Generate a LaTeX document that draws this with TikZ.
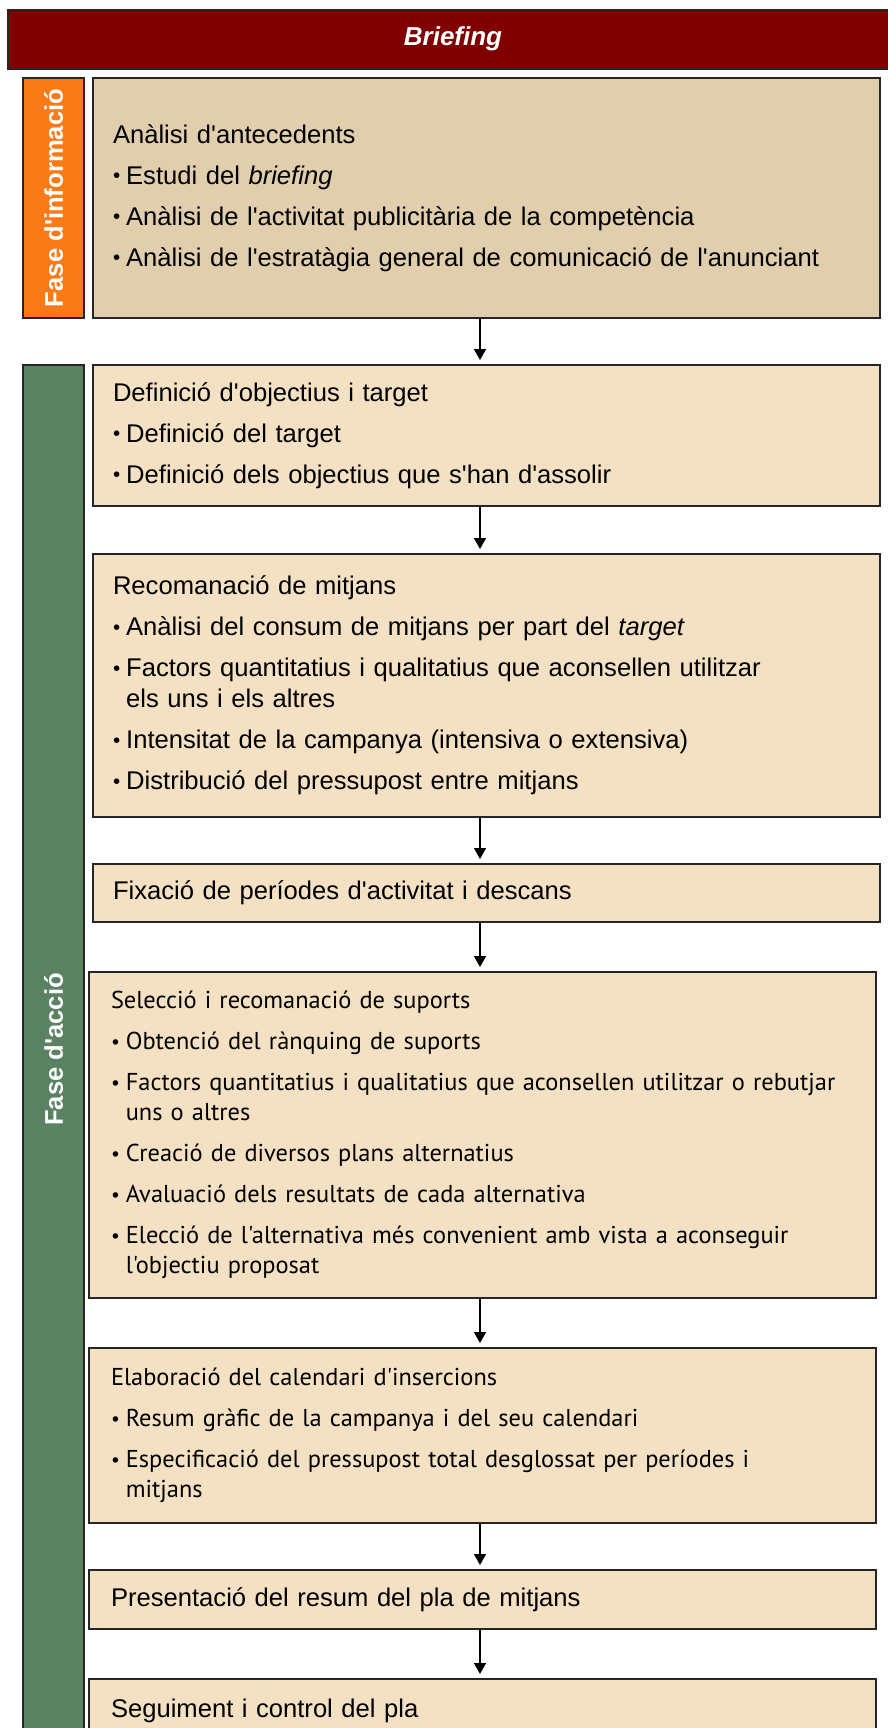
\documentclass[tikz,border=0pt]{standalone}
\usepackage{fontspec}
\setmainfont{Liberation Sans}[Ligatures=TeXOff]
\newfontfamily\humanist{PT Sans}[Ligatures=TeXOff]
\usetikzlibrary{arrows.meta,calc}

\definecolor{briefred}{HTML}{800000}
\definecolor{infoorange}{HTML}{FB7A18}
\definecolor{actiongreen}{HTML}{5A8262}
\definecolor{infobeige}{HTML}{E0CEAD}
\definecolor{stepbeige}{HTML}{F4E1C3}

% small bullet followed by a short gap; \cont indents a wrapped line by the same width
\newcommand\bul{\raisebox{0.06em}{\scalebox{0.8}{\textbullet}}\hspace{3pt}}
\newlength\bulw
\newcommand\cont{\settowidth{\bulw}{\bul}\hspace*{\bulw}}
\newcommand\nohyph{\hyphenpenalty 10000\relax}

\tikzset{
  phasebar/.style={draw=black!85, line width=1pt, anchor=north west,
    minimum width=30.5pt, inner sep=0pt},
  phaselabel/.style={rotate=90, text=white, font={\fontsize{12.8pt}{15pt}\selectfont\bfseries}},
  stepbox/.style={draw=black!85, line width=1pt, anchor=north west, fill=stepbeige,
    align=left, inner xsep=10pt, inner ysep=0pt, minimum width=393.5pt,
    text width=373.5pt, font={\fontsize{12.8pt}{15.5pt}\selectfont\nohyph}},
  humanbox/.style={stepbox, inner xsep=11pt, text width=371.5pt,
    font={\humanist\fontsize{12.2pt}{15pt}\selectfont\nohyph}},
  flow/.style={line width=0.75pt, -{Triangle[length=5.5pt,width=6pt]}, shorten >=2pt}
}

\begin{document}
\begin{tikzpicture}[x=0.5pt, y=-0.5pt]
\useasboundingbox (0,0) rectangle (888,1728);
\clip (0,0) rectangle (888,1728);

% title bar
\node[draw=black!85, line width=1pt, fill=briefred, anchor=north west,
  minimum width=450pt, minimum height=29.5pt, inner sep=0pt] (brief) at (7,9) {};
\node[text=white, font={\fontsize{13pt}{15pt}\selectfont\bfseries\itshape}] (brieftxt) at (453,38.5) {Briefing};

% phase columns
\node[phasebar, fill=infoorange, minimum height=120pt] (finfo) at (22,77) {};
\node[phaselabel] (finfolbl) at (finfo.center) {Fase d'informació};
\node[phasebar, fill=actiongreen, minimum height=684.5pt] (faccio) at (22,364) {};
\node[phaselabel] (facciolbl) at (faccio.center) {Fase d'acció};

% process steps
\node[stepbox, fill=infobeige, minimum height=120pt] (antec) at (92,77) {%
Anàlisi d'antecedents\\[5pt]
\bul Estudi del \textit{briefing}\\[5pt]
\bul Anàlisi de l'activitat publicitària de la competència\\[5pt]
\bul Anàlisi de l'estratàgia general de comunicació de l'anunciant};

\node[stepbox, minimum height=70.5pt] (objec) at (92,364) {%
Definició d'objectius i target\\[5pt]
\bul Definició del target\\[5pt]
\bul Definició dels objectius que s'han d'assolir};

\node[stepbox, minimum height=131.5pt] (mitjans) at (92,553) {%
Recomanació de mitjans\\[5pt]
\bul Anàlisi del consum de mitjans per part del \textit{target}\\[5pt]
\bul Factors quantitatius i qualitatius que aconsellen utilitzar\\
\cont els uns i els altres\\[5pt]
\bul Intensitat de la campanya (intensiva o extensiva)\\[5pt]
\bul Distribució del pressupost entre mitjans};

\node[stepbox, minimum height=29pt] (periodes) at (92,863) {%
Fixació de períodes d'activitat i descans};

\node[humanbox, minimum height=163pt] (suports) at (88,971) {%
Selecció i recomanació de suports\\[5.5pt]
\bul Obtenció del rànquing de suports\\[5.5pt]
\bul Factors quantitatius i qualitatius que aconsellen utilitzar o rebutjar\\
\cont uns o altres\\[5.5pt]
\bul Creació de diversos plans alternatius\\[5.5pt]
\bul Avaluació dels resultats de cada alternativa\\[5.5pt]
\bul Elecció de l'alternativa més convenient amb vista a aconseguir\\
\cont l'objectiu proposat};

\node[humanbox, minimum height=87.5pt] (calendari) at (88,1347) {%
Elaboració del calendari d'insercions\\[5.5pt]
\bul Resum gràfic de la campanya i del seu calendari\\[5.5pt]
\bul Especificació del pressupost total desglossat per períodes i\\
\cont mitjans};

\node[stepbox, minimum height=29.5pt, inner xsep=11pt, text width=371.5pt] (resum) at (88,1569) {%
Presentació del resum del pla de mitjans};

\node[stepbox, minimum height=32pt, inner xsep=11pt, text width=371.5pt] (seguiment) at (88,1678) {%
Seguiment i control del pla};

% connectors
\coordinate (ax) at (480,0);
\draw[flow] (antec.south -| ax) -- (objec.north -| ax);
\draw[flow] (objec.south -| ax) -- (mitjans.north -| ax);
\draw[flow] (mitjans.south -| ax) -- (periodes.north -| ax);
\draw[flow] (periodes.south -| ax) -- (suports.north -| ax);
\draw[flow] (suports.south -| ax) -- (calendari.north -| ax);
\draw[flow] (calendari.south -| ax) -- (resum.north -| ax);
\draw[flow] (resum.south -| ax) -- (seguiment.north -| ax);
\end{tikzpicture}
\end{document}
